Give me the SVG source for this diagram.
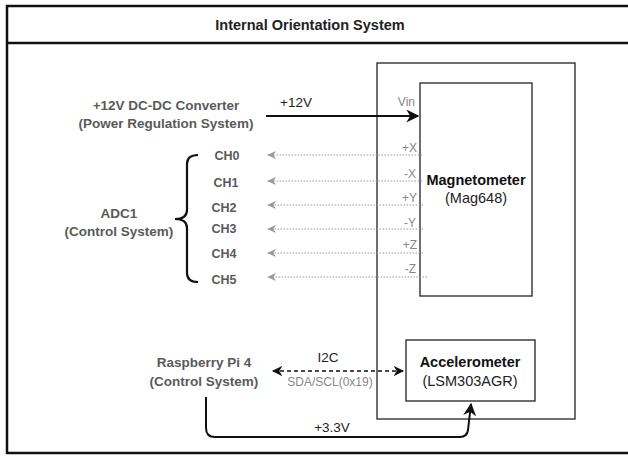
<svg xmlns="http://www.w3.org/2000/svg" width="628" height="456" viewBox="0 0 628 456">
  <style>
    .frame { fill: none; stroke: #111; stroke-width: 2.5; }
    .box { fill: #fff; stroke: #222; stroke-width: 1.3; }
    .title { font-family: "Liberation Sans", Arial, sans-serif; font-size: 14.5px; font-weight: bold; fill: #222; }
    .ext { font-family: "Liberation Sans", Arial, sans-serif; font-size: 13.5px; font-weight: bold; fill: #5a5a5a; }
    .ch { font-family: "Liberation Sans", Arial, sans-serif; font-size: 12.5px; font-weight: bold; fill: #5a5a5a; }
    .name { font-family: "Liberation Sans", Arial, sans-serif; font-size: 14.5px; font-weight: bold; fill: #111; }
    .sub { font-family: "Liberation Sans", Arial, sans-serif; font-size: 14.5px; fill: #222; }
    .pin { font-family: "Liberation Sans", Arial, sans-serif; font-size: 12px; fill: #888; }
    .lbl { font-family: "Liberation Sans", Arial, sans-serif; font-size: 13.5px; fill: #222; }
    .sig { stroke: #999; stroke-width: 1; stroke-dasharray: 1.5 1.5; fill: none; }
    .power { stroke: #111; stroke-width: 2; fill: none; }
  </style>
  <defs>
    <marker id="arrBlack" viewBox="0 0 10 10" refX="9" refY="5" markerWidth="6.5" markerHeight="6.5" orient="auto" markerUnits="strokeWidth">
      <path d="M0,0 L10,5 L0,10 L3,5 Z" fill="#111"/>
    </marker>
    <marker id="arrGray" viewBox="0 0 10 10" refX="9" refY="5" markerWidth="11" markerHeight="9" orient="auto" markerUnits="strokeWidth">
      <path d="M0,0.5 L10,5 L0,9.5 L3,5 Z" fill="#999"/>
    </marker>
    <marker id="arrDash" viewBox="0 0 10 10" refX="9" refY="5" markerWidth="7" markerHeight="7" orient="auto-start-reverse" markerUnits="strokeWidth">
      <path d="M0,0 L10,5 L0,10 L3,5 Z" fill="#111"/>
    </marker>
  </defs>

  <rect width="628" height="456" fill="#fff"/>

  <!-- outer frame and title band -->
  <g id="frame">
    <path class="frame" d="M640,6 H7 V453 H640"/>
    <line x1="7" y1="43" x2="640" y2="43" stroke="#111" stroke-width="2.5"/>
    <text class="title" x="310" y="30" text-anchor="middle">Internal Orientation System</text>
  </g>

  <!-- system enclosure -->
  <g id="enclosure">
    <rect class="box" x="377" y="63" width="198" height="356"/>
  </g>

  <g id="magnetometer">
    <rect class="box" x="420" y="83" width="112" height="213"/>
    <text class="name" x="476" y="185" text-anchor="middle">Magnetometer</text>
    <text class="sub" x="476" y="203" text-anchor="middle">(Mag648)</text>
  </g>

  <g id="accelerometer">
    <rect class="box" x="406" y="340" width="129" height="61"/>
    <text class="name" x="470" y="367" text-anchor="middle">Accelerometer</text>
    <text class="sub" x="470" y="386" text-anchor="middle">(LSM303AGR)</text>
  </g>

  <g id="converter">
    <text class="ext" x="166" y="110" text-anchor="middle">+12V DC-DC Converter</text>
    <text class="ext" x="166" y="128" text-anchor="middle">(Power Regulation System)</text>
  </g>

  <g id="adc1">
    <text class="ext" x="119" y="218" text-anchor="middle">ADC1</text>
    <text class="ext" x="119" y="236" text-anchor="middle">(Control System)</text>
    <path d="M198,155 Q187,155 187,164 V210 Q187,219 175,219 Q187,219 187,228 V273 Q187,282 198,282" fill="none" stroke="#111" stroke-width="2.2"/>
    <g class="ch">
      <text x="227" y="160" text-anchor="middle">CH0</text>
      <text x="226" y="187" text-anchor="middle">CH1</text>
      <text x="224" y="212" text-anchor="middle">CH2</text>
      <text x="224" y="233" text-anchor="middle">CH3</text>
      <text x="224" y="258" text-anchor="middle">CH4</text>
      <text x="224" y="284" text-anchor="middle">CH5</text>
    </g>
  </g>

  <g id="raspberry-pi">
    <text class="ext" x="204" y="367" text-anchor="middle">Raspberry Pi 4</text>
    <text class="ext" x="204" y="386" text-anchor="middle">(Control System)</text>
  </g>

  <!-- connectors -->
  <g id="connectors">
    <line class="power" x1="266" y1="116" x2="418" y2="116" marker-end="url(#arrBlack)"/>
    <text class="lbl" x="280" y="107">+12V</text>
    <text class="pin" x="415" y="106" text-anchor="end">Vin</text>

    <line class="sig" x1="422" y1="155" x2="268" y2="155" marker-end="url(#arrGray)"/>
    <line class="sig" x1="422" y1="181" x2="268" y2="181" marker-end="url(#arrGray)"/>
    <line class="sig" x1="423" y1="205" x2="268" y2="205" marker-end="url(#arrGray)"/>
    <line class="sig" x1="423" y1="229" x2="268" y2="229" marker-end="url(#arrGray)"/>
    <line class="sig" x1="423" y1="253" x2="268" y2="253" marker-end="url(#arrGray)"/>
    <line class="sig" x1="427" y1="277" x2="268" y2="277" marker-end="url(#arrGray)"/>
    <g class="pin" text-anchor="end">
      <text x="417" y="152">+X</text>
      <text x="416" y="178">-X</text>
      <text x="417" y="202">+Y</text>
      <text x="416" y="227">-Y</text>
      <text x="417" y="249">+Z</text>
      <text x="416" y="273">-Z</text>
    </g>

    <line x1="273" y1="371" x2="403" y2="371" stroke="#111" stroke-width="1.5" stroke-dasharray="4 3" marker-start="url(#arrDash)" marker-end="url(#arrDash)"/>
    <text class="lbl" x="328" y="362" text-anchor="middle">I2C</text>
    <text class="pin" x="330" y="386" text-anchor="middle">SDA/SCL(0x19)</text>

    <path class="power" d="M206,397 V428 Q206,437 215,437 H460 Q467,437 468,430 L471,404" marker-end="url(#arrBlack)"/>
    <text class="lbl" x="332" y="432" text-anchor="middle">+3.3V</text>
  </g>
</svg>
